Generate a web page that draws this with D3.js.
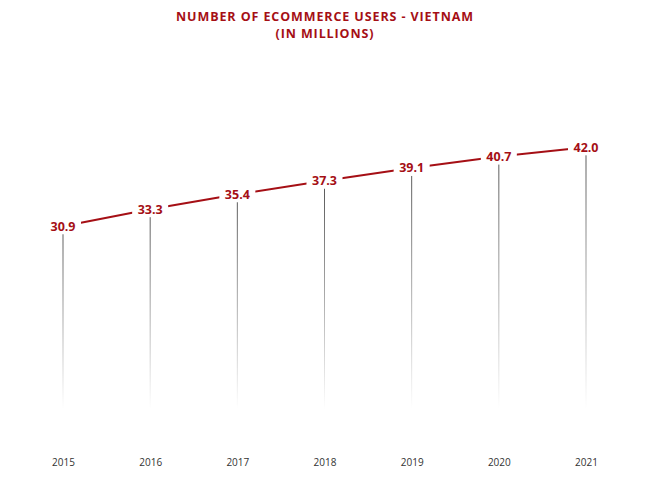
<!DOCTYPE html>
<html>
<head>
<meta charset="utf-8">
<script src="https://cdn.jsdelivr.net/npm/d3@7"></script>
<style>
body { margin: 0; background: #fff; }
text { font-family: "Open Sans", Calibri, sans-serif; }
</style>
</head>
<body>
<svg id="chart"></svg>
<script>
const years = ['2015', '2016', '2017', '2018', '2019', '2020', '2021'];
const users = [30.9, 33.3, 35.4, 37.3, 39.1, 40.7, 42.0];

const width = 650, height = 499;
const red = '#a50f15';

const svg = d3.select('#chart').attr('width', width).attr('height', height);

// Title
svg.append('text')
	.attr('x', 325).attr('y', 21)
	.attr('text-anchor', 'middle')
	.attr('fill', red).style('font-weight', 'bold').style('font-size', '12.5px')
	.style('letter-spacing', '0.9px')
	.text('NUMBER OF ECOMMERCE  USERS - VIETNAM');
svg.append('text')
	.attr('x', 325).attr('y', 38)
	.attr('text-anchor', 'middle')
	.attr('fill', red).style('font-weight', 'bold').style('font-size', '12.5px')
	.style('letter-spacing', '0.9px')
	.text('(IN MILLIONS)');

const x = d3.scalePoint().domain(years).range([63, 586]);
const y = d3.scaleLinear().domain([0, 45]).range([446, 126]);

// gradient for drop lines
const grad = svg.append('defs').append('linearGradient')
	.attr('id', 'fade').attr('x1', 0).attr('x2', 0).attr('y1', 0).attr('y2', 1);
grad.append('stop').attr('offset', '0%').attr('stop-color', '#555').attr('stop-opacity', 1);
grad.append('stop').attr('offset', '100%').attr('stop-color', '#555').attr('stop-opacity', 0);

const data = years.map((yr, i) => ({ year: yr, value: users[i] }));

svg.selectAll('.drop').data(data).enter().append('rect')
	.attr('class', 'drop')
	.attr('x', d => x(d.year) - 0.5)
	.attr('y', d => y(d.value))
	.attr('width', 1)
	.attr('height', d => y(5.2) - y(d.value))
	.attr('fill', 'url(#fade)');

svg.append('path')
	.datum(data)
	.attr('fill', 'none')
	.attr('stroke', red)
	.attr('stroke-width', 2)
	.attr('d', d3.line().x(d => x(d.year)).y(d => y(d.value)));

// value labels with white background
const lbl = svg.selectAll('.lbl').data(data).enter().append('g')
	.attr('class', 'lbl')
	.attr('transform', d => `translate(${x(d.year)},${y(d.value)})`);
lbl.append('rect')
	.attr('x', -18).attr('y', -9).attr('width', 36).attr('height', 17)
	.attr('fill', '#fff');
lbl.append('text')
	.attr('text-anchor', 'middle').attr('dy', '0.35em')
	.attr('fill', red).style('font-weight', 'bold').style('font-size', '12.5px')
	.text(d => d.value.toFixed(1));

// x axis labels
const xAxis = d3.axisBottom(x).tickSize(0).tickPadding(0);
svg.append('g')
	.attr('transform', 'translate(0,459)')
	.call(xAxis)
	.call(g => g.select('.domain').remove())
	.selectAll('text')
	.style('font-family', '"Open Sans", sans-serif')
	.style('font-size', '10px')
	.attr('fill', '#333');
</script>
</body>
</html>
